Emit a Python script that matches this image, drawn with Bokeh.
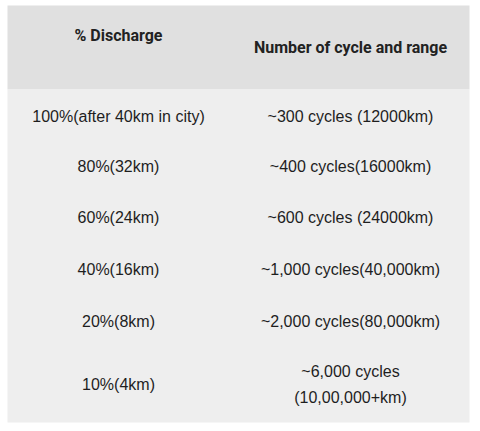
from bokeh.plotting import figure
from bokeh.models import Range1d, ColumnDataSource
from bokeh.core.properties import value
from bokeh.embed import file_html
from bokeh.resources import INLINE

headers = ["% Discharge", "Number of cycle and range"]
discharge = ["100%(after 40km in city)", "80%(32km)", "60%(24km)", "40%(16km)",
             "20%(8km)", "10%(4km)"]
cycles = ["~300 cycles (12000km)", "~400 cycles(16000km)", "~600 cycles (24000km)",
          "~1,000 cycles(40,000km)", "~2,000 cycles(80,000km)",
          "~6,000 cycles\n(10,00,000+km)"]

# layout (page pixel coordinates)
W, H = 472, 423
left, right = 7, 469
top, header_bottom, bottom = 5, 89, 422
col_x = [118, 350]
header_y = [35, 47]
row_y = [116, 166, 217, 269, 321, 384]

p = figure(width=W, height=H, output_backend="svg", toolbar_location=None,
           x_range=Range1d(0, W), y_range=Range1d(H, 0),
           min_border=0)
p.axis.visible = False
p.grid.visible = False
p.outline_line_color = None
p.background_fill_color = "white"
p.border_fill_color = "white"

p.quad(left=[left], right=[right], top=[top], bottom=[header_bottom],
       fill_color="#e0e0e0", line_color=None)
p.quad(left=[left], right=[right], top=[header_bottom], bottom=[bottom],
       fill_color="#eeeeee", line_color=None)

hsrc = ColumnDataSource(dict(x=col_x, y=header_y, t=headers))
p.text(x="x", y="y", text="t", source=hsrc, text_align="center",
       text_baseline="middle", text_font=value("Roboto"), text_font_style="bold",
       text_font_size="16px", text_color="#222222")

xs = [col_x[0]] * len(discharge) + [col_x[1]] * len(cycles)
ys = row_y + row_y
ts = discharge + cycles
bsrc = ColumnDataSource(dict(x=xs, y=ys, t=ts))
p.text(x="x", y="y", text="t", source=bsrc, text_align="center",
       text_baseline="middle", text_font=value("Liberation Sans"),
       text_font_size="16px", text_color="#1e1e1e", text_line_height=1.55)

open("out.html", "w").write(file_html(p, INLINE))
